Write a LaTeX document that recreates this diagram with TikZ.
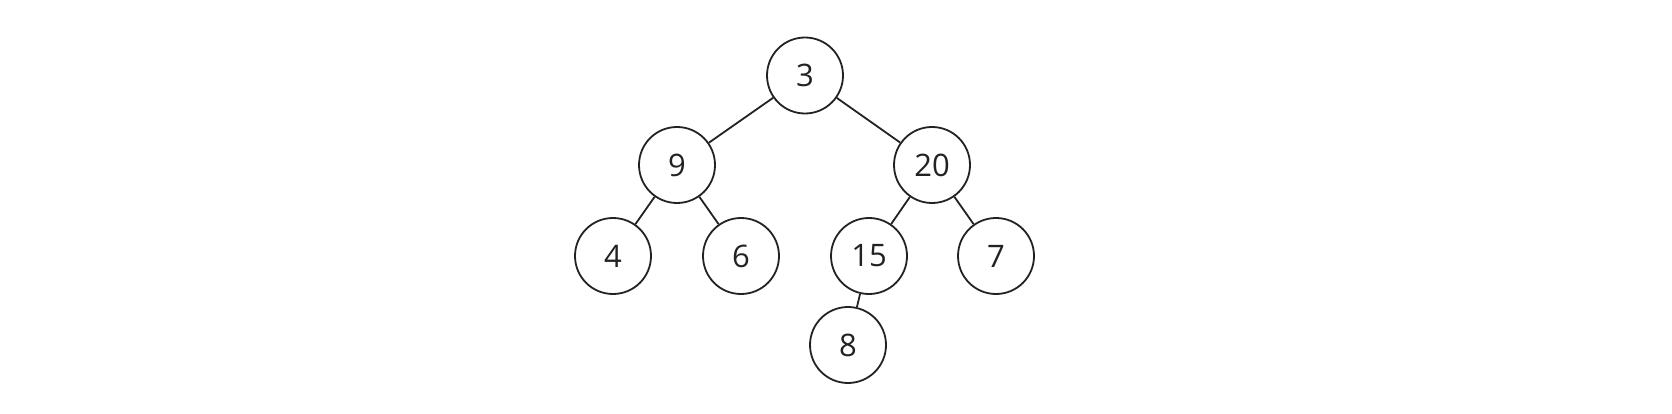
\documentclass[tikz,border=0pt]{standalone}
\usepackage{fontspec}
\setmainfont{Open Sans}
\definecolor{ink}{HTML}{222222}
\begin{document}
\begin{tikzpicture}[x=1pt,y=-1pt,
  tnode/.style={circle,draw=ink,line width=1.8pt,minimum size=76pt,inner sep=0pt,text=ink,font=\fontsize{31}{31}\selectfont},
  edge/.style={draw=ink,line width=1.8pt}]
\useasboundingbox (0,0) rectangle (1672,414);
\node[tnode] (n3) at (805,75.5) {3};
\node[tnode] (n9) at (677,165) {9};
\node[tnode] (n20) at (932,165) {20};
\node[tnode] (n4) at (613,256) {4};
\node[tnode] (n6) at (741,256) {6};
\node[tnode] (n15) at (869,256) {15};
\node[tnode] (n7) at (996,256) {7};
\node[tnode] (n8) at (848,345) {8};
\draw[edge] (n3) -- (n9);
\draw[edge] (n3) -- (n20);
\draw[edge] (n9) -- (n4);
\draw[edge] (n9) -- (n6);
\draw[edge] (n20) -- (n15);
\draw[edge] (n20) -- (n7);
\draw[edge] (n15) -- (n8);
\end{tikzpicture}
\end{document}
